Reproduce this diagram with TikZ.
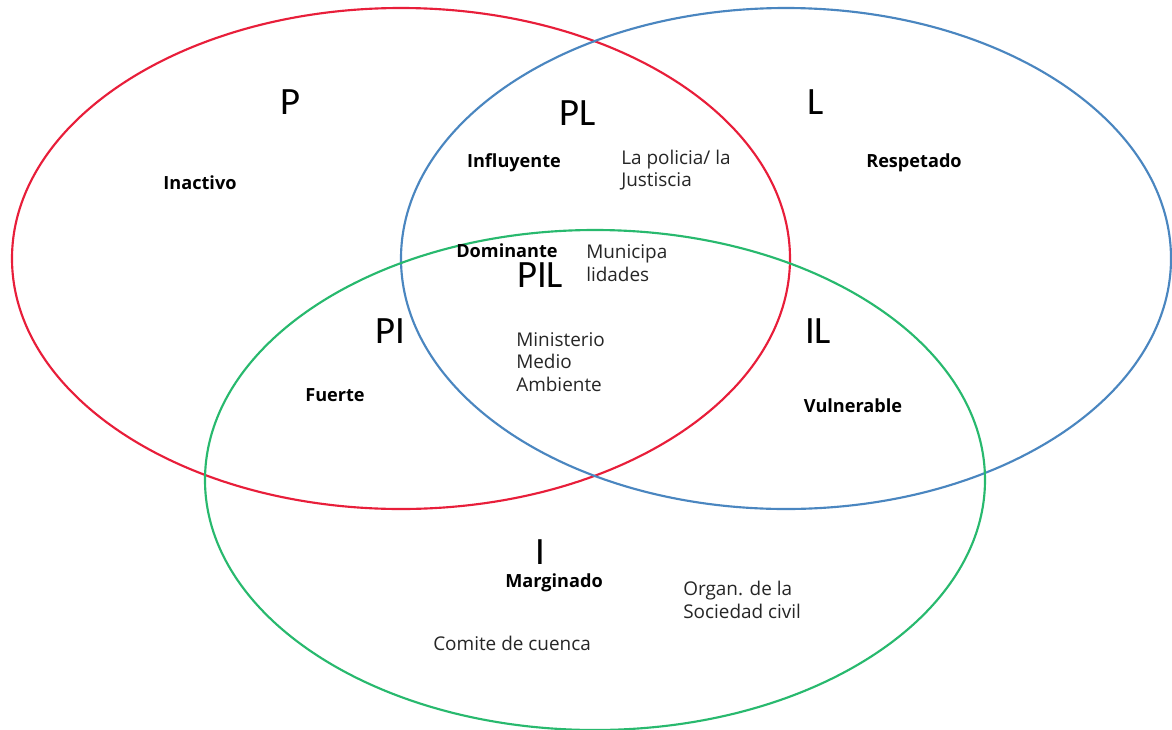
\documentclass[tikz,border=0pt]{standalone}
\usepackage{fontspec}
\setmainfont{Open Sans}
\newfontfamily\carlitofam{Carlito}
\definecolor{cred}{RGB}{232,30,58}
\definecolor{cblue}{RGB}{74,134,192}
\definecolor{cgreen}{RGB}{40,185,110}
\begin{document}
\begin{tikzpicture}[x=0.75pt,y=-0.75pt,
  ring/.style={line width=1.6pt},
  big/.style={font=\carlitofam\fontsize{29}{29}\selectfont, inner sep=0pt},
  role/.style={font=\bfseries\fontsize{13.6}{15}\selectfont, inner sep=0pt},
  actor/.style={font=\fontsize{14.2}{17}\selectfont, inner sep=0pt, align=left, anchor=west, text=black!85}]
\useasboundingbox (0,0) rectangle (1172,729);
\fill[white] (0,0) rectangle (1172,729);
\draw[ring,cred] (401,258.5) ellipse [x radius=389, y radius=250.5];
\draw[ring,cblue] (786,258.5) ellipse [x radius=385, y radius=250.5];
\draw[ring,cgreen] (595,480) ellipse [x radius=390, y radius=250];
\node[big] (p) at (290,102) {P};
\node[big] (pl) at (578,113) {PL};
\node[big] (l) at (816,102) {L};
\node[big] (pil) at (540,275) {PIL};
\node[big] (pi) at (390,331) {PI};
\node[big] (il) at (818,331) {IL};
\node[big, text depth=0pt, anchor=south] (i) at (540,565) {I};
\node[role, text height=7.5pt, anchor=base] (marginado) at (554,587) {Marginado};
\node[role] (inactivo) at (200,183) {Inactivo};
\node[role] (influyente) at (514,163) {Influyente};
\node[role] (respetado) at (914,163) {Respetado};
\node[role] (dominante) at (507,251) {Dominante};
\node[role] (fuerte) at (335,395) {Fuerte};
\node[role] (vulnerable) at (853,406) {Vulnerable};
\node[actor] (policia) at (621,170) {La policia/ la\\Justiscia};
\node[actor] (muni) at (586,263) {Municipa\\lidades};
\node[actor] (minis) at (516,362) {Ministerio\\Medio\\Ambiente};
\node[actor] (organ) at (683,600) {Organ. de la\\Sociedad civil};
\node[actor] (comite) at (433,643) {Comite de cuenca};
\end{tikzpicture}
\end{document}
